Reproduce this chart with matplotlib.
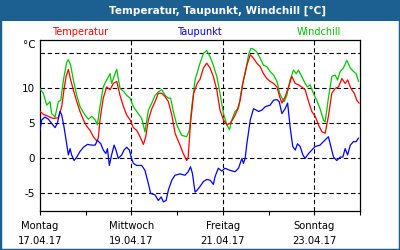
import matplotlib
matplotlib.use('Agg')
import matplotlib.pyplot as plt
from matplotlib.patches import Rectangle
from matplotlib.ticker import MultipleLocator

# time axis in hours from Montag 17.04.17 00:00
temp_h = [0, 1.75, 4.4, 7, 9.6, 11.4, 12.6, 13.7, 14.9, 16.1, 17.5, 19.3, 21, 22.8,
          24.5, 26.3, 28, 29.8, 30.6, 31.5, 33.2, 35, 36.8, 38.5, 40.3, 42, 43.8,
          45.5, 47.3, 49, 50.8, 52.5, 54.3, 55.5, 56.9, 58.7, 60.4, 62.1, 63.9,
          65.7, 67.4, 69.2, 70.9, 73.5, 75.2, 77, 77.8, 79, 80.7, 82.5, 84, 85.8,
          87.5, 89.3, 91, 92.8, 94.5, 96.3, 98.1, 99.8, 101.5, 103.3, 105.1, 106.8,
          108.6, 110.4, 112.1, 113.8, 115.6, 117.3, 119.1, 120.8, 122.6, 124.4,
          125.8, 127, 128.7, 130.5, 132.2, 134, 135.7, 137.4, 139.2, 141, 142.7,
          144.5, 146.2, 148, 149.7, 151.4, 153.2, 155, 156.7, 158.5, 160.2, 161.5,
          163.2, 165, 166.3, 167.5]
temp = [6.7, 6.3, 6.0, 5.7, 5.8, 7.4, 9.8, 11.7, 12.7, 11.2, 9.8, 8.1, 6.7, 5.5,
        4.6, 4.0, 3.1, 2.5, 2.9, 5.5, 8.6, 10.2, 9.8, 10.7, 11.0, 9.0, 7.4,
        6.2, 5.5, 4.4, 4.0, 3.1, 2.0, 3.1, 5.5, 7.1, 8.1, 9.3, 9.3,
        8.8, 8.1, 6.2, 3.6, 1.9, 0.7, -0.3, 0.2, 5.0, 9.3, 10.7, 11.3, 12.9,
        13.6, 12.9, 11.7, 9.8, 6.9, 5.5, 4.8, 5.0, 5.7, 6.7, 8.3, 11.2,
        13.3, 14.8, 14.3, 13.6, 13.1, 12.1, 11.4, 11.0, 10.7, 10.2,
        8.8, 7.9, 8.8, 10.2, 11.7, 10.7, 10.5, 10.2, 9.8, 8.1, 6.7,
        6.0, 4.8, 3.8, 3.6, 6.0, 9.3, 10.0, 10.2, 11.4, 10.7, 11.2,
        10.0, 9.3, 8.3, 7.9]

dew_h = [0, 0.9, 2.6, 4.4, 6.1, 7.9, 9.1, 10.5, 11.4, 12.6, 13.7, 14.9, 15.8, 16.6,
         17.9, 19.3, 21, 22.8, 24.9, 27.2, 29, 30.1, 31.9, 33.2, 34.6, 35.4, 36.4,
         37.6, 38.9, 39.9, 41.1, 42.9, 44.1, 45.5, 46.9, 48.2, 49, 50.8, 53.4,
         55.1, 56.9, 58.1, 60.4, 62.1, 63.6, 64.8, 66.2, 67.4, 69.2, 70.9, 73.5,
         76.1, 77.8, 79, 80, 81.4, 82.6, 84, 85.8, 87.5, 89.3, 91, 91.9, 93.6,
         95.4, 97.1, 99.8, 102.4, 104.2, 106, 106.8, 107.7, 108.6, 110.4, 112.1,
         113.5, 114.8, 116.5, 118.3, 120.8, 122.6, 124.4, 125.6, 127, 128.7, 130,
         131.3, 132.7, 134, 135.2, 136.6, 138, 139.2, 141, 142.7, 144.5, 147,
         148.8, 151.4, 152.7, 154.1, 155.8, 157.6, 159, 160.2, 161.5, 162.9,
         164.6, 166, 167.2]
dew = [4.0, 5.5, 5.9, 5.6, 5.0, 4.4, 5.0, 6.7, 6.2, 4.5, 2.6, 0.5, 1.4, 0.5,
       -0.3, 0.2, 1.0, 1.6, 2.0, 1.9, 1.9, 2.6, 2.1, 1.2, 0.7, 1.4, -1.0,
       0.5, 1.9, 1.2, 0.0, 0.5, 1.2, 1.6, 1.2, -0.1, -0.7, -1.0, -1.0,
       -1.7, -3.6, -5.0, -5.2, -6.0, -5.5, -6.2, -6.0, -4.5, -3.1, -2.4, -2.2,
       -2.4, -1.9, -1.2, -2.1, -4.8, -4.5, -4.0, -3.3, -3.0, -3.1, -3.7, -2.6, -1.4,
       -1.8, -1.4, -1.7, -1.9, -1.4, 0.0, -0.7, 0.0, 2.1, 5.5, 7.1,
       6.9, 6.7, 6.9, 7.4, 7.6, 8.3, 8.4, 8.1, 6.4, 7.1, 7.9,
       4.5, 1.7, 1.2, 2.1, 1.7, 0.5, 0.0, 0.7, 1.2, 1.7, 1.9,
       2.4, 3.1, 1.7, 0.2, -0.3, 0.2, 0.2, 1.4, 0.5, 1.9,
       2.4, 2.4, 2.9]

wind_h = [0, 1.75, 3.5, 5.25, 6.1, 7.9, 9.6, 10.9, 12.3, 14, 14.9, 16.1, 17.5, 19.3,
          21, 23.6, 25.4, 27.2, 29, 30.1, 31.5, 33.2, 35, 36.8, 37.6, 39.4, 40.3,
          42, 44.1, 45.5, 47.3, 49, 50.8, 53.4, 55.1, 56.9, 58.7, 60.4, 62.1,
          63.9, 65.7, 67.4, 68.6, 70, 71.8, 74.4, 77, 78.4, 79.7, 81.4, 84, 85.8,
          87.5, 89.3, 91, 92.8, 94.5, 96.3, 98.1, 99.5, 100.7, 102.4, 104.2, 106,
          107.7, 109.5, 110.7, 112.1, 113.8, 115.6, 117.3, 119.1, 120.8, 122.6,
          124.4, 125.8, 127, 128.2, 129.6, 131.3, 133.1, 134.5, 135.7, 137.4,
          139.2, 140.4, 141.8, 143.5, 145.3, 147, 148.8, 149.7, 151.4, 153.2, 155,
          156.2, 157.6, 159.3, 161.1, 162.9, 164.6, 166, 167.2]
wind = [9.9, 9.3, 7.6, 8.1, 6.4, 5.9, 8.1, 8.3, 11.2, 13.7, 14.1, 13.3, 11.2, 9.0,
        7.4, 6.2, 5.6, 6.0, 5.5, 4.8, 7.4, 10.2, 11.2, 12.1, 10.7, 12.1, 12.7,
        10.0, 9.5, 9.0, 8.6, 7.4, 6.7, 5.7, 3.8, 6.9, 7.9, 9.0, 9.5,
        9.8, 9.0, 8.6, 8.6, 6.7, 4.8, 3.3, 3.1, 4.0, 7.4, 11.2, 13.6, 15.0,
        15.4, 14.5, 13.3, 11.7, 9.3, 6.4, 4.8, 4.1, 5.5, 6.7, 7.1, 10.2,
        12.1, 14.8, 15.7, 15.6, 15.2, 14.3, 13.3, 13.1, 12.4, 11.9,
        11.0, 9.3, 8.6, 8.1, 9.0, 11.2, 12.6, 12.1, 12.6, 11.7,
        10.7, 10.2, 10.5, 9.3, 8.3, 7.1, 5.5, 5.2, 8.6, 11.7, 11.9,
        11.2, 12.4, 12.9, 14.0, 12.9, 12.4, 12.1, 11.0]

x_ticks = [0, 48, 96, 144]
x_labels = ['Montag\n17.04.17', 'Mittwoch\n19.04.17', 'Freitag\n21.04.17', 'Sonntag\n23.04.17']
y_ticks = [10, 5, 0, -5]

frame_blue = '#1c5f91'

fig = plt.figure(figsize=(4, 2.5), dpi=100)
fig.patch.set_facecolor('white')

# title bar and frame
fig.patches.append(Rectangle((0, 0.916), 1, 0.084, transform=fig.transFigure,
                             facecolor=frame_blue, edgecolor='none', zorder=0))
fig.patches.append(Rectangle((0, 0), 1, 1, transform=fig.transFigure,
                             facecolor='none', edgecolor=frame_blue, linewidth=2.5, zorder=1))
fig.text(0.543, 0.958, 'Temperatur, Taupunkt, Windchill [°C]', color='white',
         fontsize=7.5, fontweight='bold', ha='center', va='center')

fig.text(0.201, 0.872, 'Temperatur', color='red', fontsize=7, ha='center', va='center')
fig.text(0.498, 0.872, 'Taupunkt', color='blue', fontsize=7, ha='center', va='center')
fig.text(0.798, 0.872, 'Windchill', color='#00c000', fontsize=7, ha='center', va='center')
fig.text(0.088, 0.818, '°C', color='black', fontsize=7.5, ha='right', va='center')

ax = fig.add_axes([0.1, 0.156, 0.8, 0.684])
ax.plot(wind_h, wind, color='#00c800', lw=0.9, zorder=3)
ax.plot(temp_h, temp, color='red', lw=0.9, zorder=4)
ax.plot(dew_h, dew, color='blue', lw=0.9, zorder=5)

ax.set_xlim(0, 168)
ax.set_ylim(-7.5, 16.9)
ax.set_xticks(x_ticks)
ax.set_xticklabels(x_labels, fontsize=7.2, linespacing=1.7)
ax.xaxis.set_minor_locator(MultipleLocator(24))
ax.tick_params(axis='x', which='both', direction='out', length=3, width=0.8, pad=4)
ax.set_yticks(y_ticks)
ax.set_yticklabels([str(v) for v in y_ticks], fontsize=7.5)
ax.tick_params(axis='y', length=0, pad=4)

for y in [15, 10, 5, 0, -5]:
    ax.axhline(y, color='black', lw=0.8, linestyle=(0, (4, 2.5)), zorder=2)
for x in [48, 96, 144]:
    ax.axvline(x, color='black', lw=0.8, linestyle=(0, (4, 2.5)), zorder=2)

for s in ax.spines.values():
    s.set_linewidth(0.9)

fig.savefig('out.png', dpi=100)
plt.close()
